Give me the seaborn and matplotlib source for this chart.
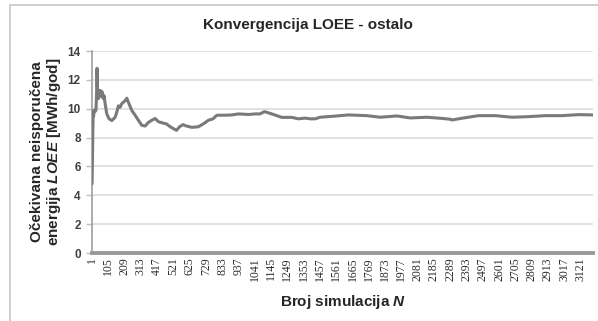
import matplotlib
matplotlib.use("Agg")
import matplotlib.pyplot as plt
from matplotlib.patches import Rectangle
import pandas as pd
import seaborn as sns

# Running estimate of LOEE versus number of simulations
sim_n = [1, 3, 5, 8, 11, 14, 20, 26, 30, 33, 35, 38, 41, 46, 52, 58, 63, 67, 73,
         78, 84, 95, 110, 127, 148, 160, 169, 180, 191, 201, 212, 223, 233, 255,
         276, 297, 319, 340, 361, 382, 404, 425, 457, 476, 500, 540, 560, 582,
         595, 638, 680, 712, 744, 774, 798, 851, 894, 936, 1000, 1043, 1074,
         1102, 1149, 1213, 1277, 1319, 1362, 1394, 1426, 1458, 1543, 1639, 1756,
         1841, 1948, 2033, 2140, 2225, 2289, 2300, 2363, 2469, 2576, 2683, 2789,
         2896, 3002, 3108, 3200]
loee = [4.8, 6.0, 7.7, 9.8, 9.5, 9.9, 9.8, 9.9, 11.0, 12.8, 11.6, 10.9, 10.7,
        11.0, 11.27, 10.85, 11.2, 11.1, 10.7, 10.9, 10.4, 9.64, 9.3, 9.18, 9.4,
        9.8, 10.2, 10.1, 10.35, 10.45, 10.55, 10.73, 10.45, 9.88, 9.55, 9.2,
        8.85, 8.8, 9.05, 9.2, 9.32, 9.1, 9.0, 8.95, 8.75, 8.5, 8.75, 8.9,
        8.83, 8.71, 8.75, 8.95, 9.2, 9.3, 9.55, 9.55, 9.57, 9.64, 9.6, 9.64,
        9.64, 9.8, 9.64, 9.4, 9.4, 9.3, 9.35, 9.3, 9.3, 9.41, 9.48, 9.57, 9.52,
        9.41, 9.5, 9.36, 9.41, 9.34, 9.27, 9.22, 9.34, 9.52, 9.52, 9.41, 9.45,
        9.52, 9.52, 9.59, 9.57]
x_tick_labels = list(range(1, 3200, 104))
y_ticks = [0, 2, 4, 6, 8, 10, 12, 14]

df = pd.DataFrame({"N": sim_n, "LOEE": loee})

sns.set_theme(style="white")
plt.rcParams["font.family"] = ["Liberation Sans", "DejaVu Sans"]
plt.rcParams["mathtext.fontset"] = "custom"
plt.rcParams["mathtext.it"] = "Liberation Sans:bold:italic"
plt.rcParams["mathtext.rm"] = "Liberation Sans:bold"

fig = plt.figure(figsize=(5.98, 3.21), dpi=100)
ax = fig.add_axes([0.1538, 0.2118, 0.8378, 0.6293])

for y in y_ticks[1:]:
    ax.axhline(y, color="#d9d9d9", lw=1.1, zorder=0)

sns.lineplot(data=df, x="N", y="LOEE", ax=ax, color="#7a7a7a", lw=2.2,
             zorder=3)

ax.set_xlim(0.5, 3200.5)
ax.set_ylim(0, 14)
ax.set_yticks(y_ticks)
ax.set_yticklabels([str(v) for v in y_ticks], fontsize=8.5,
                   fontweight="bold", color="#404040")
ax.set_xticks(x_tick_labels)
ax.set_xticklabels([str(v) for v in x_tick_labels], rotation=90,
                   fontsize=8.5, color="#2b2b2b",
                   family="Liberation Serif")
ax.tick_params(axis="y", length=4, width=1, color="#bfbfbf", pad=4,
               left=True)
ax.tick_params(axis="x", length=0, pad=3)
ax.set_xlabel("")
ax.set_ylabel("")

for side in ("top", "right"):
    ax.spines[side].set_visible(False)
ax.spines["left"].set_color("#a6a6a6")
ax.spines["left"].set_linewidth(1.3)
ax.spines["bottom"].set_color("#999999")
ax.spines["bottom"].set_linewidth(2.8)

fig.text(308 / 598, 1 - 25 / 321, "Konvergencija LOEE - ostalo",
         ha="center", va="center", fontsize=11, fontweight="bold")
fig.text(343 / 598, 1 - 302 / 321, r"Broj simulacija $N$",
         ha="center", va="center", fontsize=11, fontweight="bold")
fig.text(46.5 / 598, 1 - 152 / 321,
         "Očekivana neisporučena\nenergija $LOEE$ [MWh/god]",
         ha="center", va="center", rotation=90, fontsize=11,
         fontweight="bold", linespacing=1.15)

fig.patches.append(Rectangle((10 / 598, -0.1), 1.2, 1 - 5 / 321 + 0.1,
                             transform=fig.transFigure, fill=False,
                             edgecolor="#cfcfcf", lw=1.4))

fig.savefig("out.png", dpi=100)
